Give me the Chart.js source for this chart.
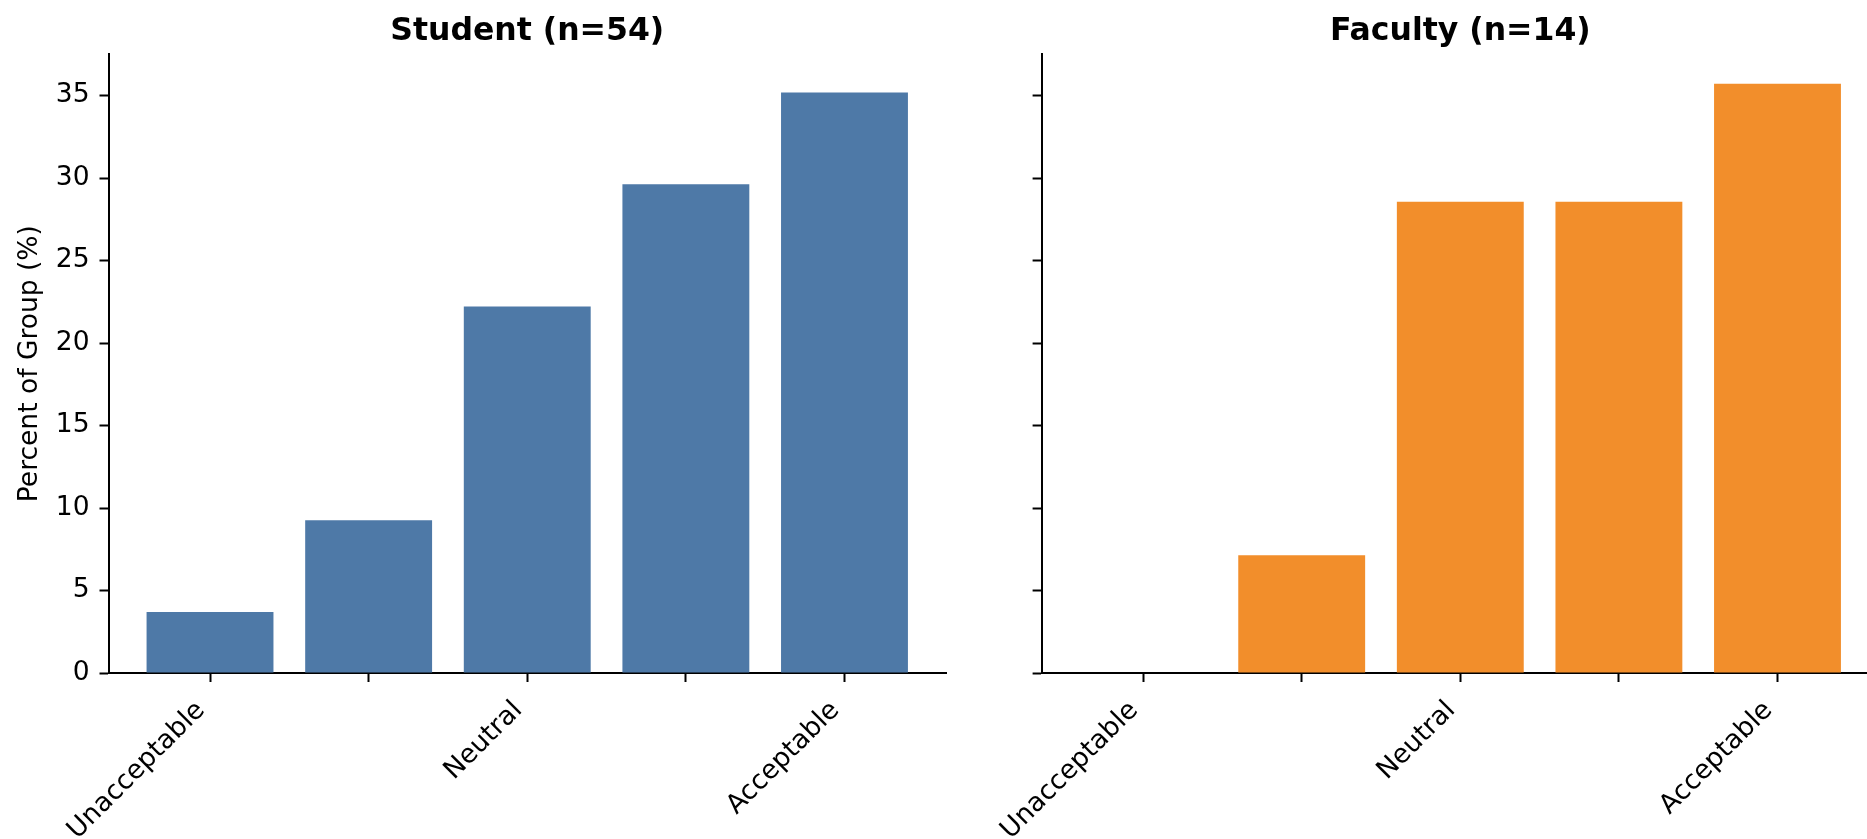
<!DOCTYPE html>
<html>
<head>
<meta charset="utf-8">
<script src="https://cdn.jsdelivr.net/npm/chart.js@4.4.1/dist/chart.umd.min.js"></script>
<style>
  html, body { margin: 0; padding: 0; background: #fff; overflow: hidden; }
  #wrap { position: relative; width: 1867px; height: 839px; overflow: hidden; }
  canvas { position: absolute; top: 0; }
</style>
</head>
<body>
<div id="wrap">
  <canvas id="student" width="960" height="839" style="left:0px"></canvas>
  <canvas id="faculty" width="940" height="839" style="left:960px"></canvas>
</div>
<script>
// ---- data ----
const categories = [1, 2, 3, 4, 5];
const tickLabels = ['Unacceptable', '', 'Neutral', '', 'Acceptable'];
const studentValues = [3.70, 9.26, 22.22, 29.63, 35.19];
const facultyValues = [0, 7.14, 28.57, 28.57, 35.71];
const yTicks = [0, 5, 10, 15, 20, 25, 30, 35];
const panelTitles = ['Student (n=54)', 'Faculty (n=14)'];
const yAxisLabel = 'Percent of Group (%)';

Chart.defaults.color = '#000';
Chart.defaults.font.family = 'DejaVu Sans';

function makeChart(id, title, values, color, showY, yWidth, padRight) {
  const pts = categories.map((c, i) => ({ x: i, y: values[i] }));
  return new Chart(document.getElementById(id), {
    type: 'bar',
    data: {
      datasets: [{
        data: pts,
        backgroundColor: color,
        borderWidth: 0,
        barPercentage: 0.8,
        categoryPercentage: 1.0
      }]
    },
    options: {
      responsive: false,
      animation: false,
      devicePixelRatio: 1,
      layout: { padding: { left: 0, right: padRight, top: 0, bottom: 0 } },
      plugins: {
        legend: { display: false },
        tooltip: { enabled: false },
        title: {
          display: true,
          text: title,
          fullSize: false,
          color: '#000',
          font: { size: 31.5, weight: 'bold', family: 'DejaVu Sans' },
          padding: { top: 13, bottom: 3.5 }
        }
      },
      scales: {
        x: {
          type: 'linear',
          min: -0.64,
          max: 4.64,
          offset: false,
          afterBuildTicks: s => { s.ticks = categories.map((c, i) => ({ value: i })); },
          afterFit: s => { s.height = 166; },
          border: { display: true, color: '#000', width: 2 },
          grid: { display: true, offset: false, drawOnChartArea: false, drawTicks: true, tickLength: 9, tickWidth: 2, tickColor: '#000' },
          ticks: {
            autoSkip: false,
            minRotation: 45,
            maxRotation: 45,
            padding: 13,
            labelOffset: -9,
            font: { size: 26.5 },
            callback: (v) => tickLabels[Math.round(v)] ?? ''
          }
        },
        y: {
          type: 'linear',
          min: 0,
          max: 37.5,
          afterBuildTicks: s => { s.ticks = yTicks.map(v => ({ value: v })); },
          afterFit: s => { s.width = yWidth; },
          border: { display: true, color: '#000', width: 2 },
          grid: { display: true, drawOnChartArea: false, drawTicks: true, tickLength: 9, tickWidth: 2, tickColor: '#000' },
          title: {
            display: showY,
            text: yAxisLabel,
            font: { size: 26.5 },
            padding: { top: 14.5, bottom: 0 }
          },
          ticks: {
            padding: 10,
            font: { size: 26.5 },
            callback: (v) => showY ? String(v) : ''
          }
        }
      }
    }
  });
}

makeChart('student', panelTitles[0], studentValues, '#4e79a7', true, 108.5, 14);
makeChart('faculty', panelTitles[1], facultyValues, '#f28e2b', false, 81.6, 21);
</script>
</body>
</html>
